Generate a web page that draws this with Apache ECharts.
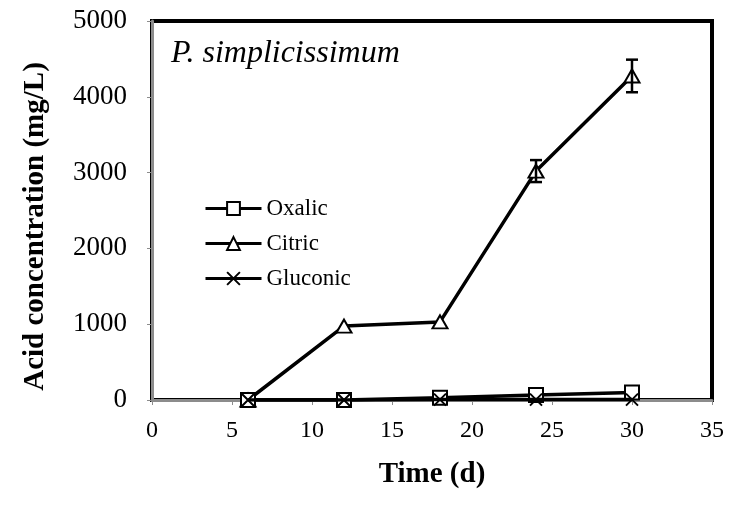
<!DOCTYPE html>
<html>
<head>
<meta charset="utf-8">
<script src="https://cdn.jsdelivr.net/npm/echarts@6/dist/echarts.min.js"></script>
<style>
  html, body { margin: 0; padding: 0; background: #fff; }
  #chart { width: 731px; height: 505px; }
</style>
</head>
<body>
<div id="chart"></div>
<script>
// Sampling days and acid concentrations (mg/L)
const days = [6, 12, 18, 24, 30];
const oxalic = [0, 0, 30, 65, 100];
const citric = [0, 975, 1030, 3020, 4275];
const citricErr = [0, 0, 0, 145, 215];
const gluconic = [0, 0, 5, 5, 5];
const xTicks = [0, 5, 10, 15, 20, 25, 30, 35];
const yTicks = [0, 1000, 2000, 3000, 4000, 5000];

const FONT = "'Liberation Serif', 'Times New Roman', serif";
const crossPath = 'path://M0,0L10,10M10,0L0,10';

const pairs = arr => days.map((d, i) => [d, arr[i]]);
const errData = days.map((d, i) => [d, citric[i] - citricErr[i], citric[i] + citricErr[i]])
  .filter((r, i) => citricErr[i] > 0);

const chart = echarts.init(document.getElementById('chart'), null, { renderer: 'canvas' });

chart.setOption({
  animation: false,
  backgroundColor: '#fff',
  textStyle: { fontFamily: FONT, color: '#000' },
  grid: {
    left: 152, right: 19, top: 21, bottom: 105,
    show: true, borderColor: '#000', borderWidth: 4, backgroundColor: 'transparent'
  },
  title: {
    text: 'P. simplicissimum',
    left: 166, top: 33,
    textStyle: { fontFamily: FONT, fontStyle: 'italic', fontWeight: 'normal', fontSize: 32, color: '#000' }
  },
  legend: {
    orient: 'vertical',
    left: 199, top: 192,
    itemWidth: 56, itemHeight: 16, itemGap: 12,
    lineStyle: { width: 3 },
    textStyle: { fontFamily: FONT, fontSize: 23, lineHeight: 23, color: '#000' },
    data: ['Oxalic', 'Citric', 'Gluconic']
  },
  xAxis: {
    type: 'value',
    min: xTicks[0], max: xTicks[xTicks.length - 1], interval: 5,
    name: 'Time (d)', nameLocation: 'middle', nameGap: 60,
    nameTextStyle: { fontFamily: FONT, fontSize: 29, fontWeight: 'bold', color: '#000' },
    axisLine: { show: true, onZero: false, lineStyle: { color: '#8c8c8c', width: 3 } },
    axisTick: { show: true, inside: false, length: 5, lineStyle: { color: '#8c8c8c', width: 1 } },
    axisLabel: { fontFamily: FONT, fontSize: 24, color: '#000', margin: 19, formatter: v => String(v) },
    splitLine: { show: false }
  },
  yAxis: {
    type: 'value',
    min: yTicks[0], max: yTicks[yTicks.length - 1], interval: 1000,
    name: 'Acid concentration (mg/L)', nameLocation: 'middle', nameGap: 102,
    nameTextStyle: {
      fontFamily: FONT, fontSize: 29, fontWeight: 'bold', color: '#000',
      padding: [0, 32, 0, 0]
    },
    axisLine: { show: true, lineStyle: { color: '#8c8c8c', width: 3 } },
    axisTick: { show: true, inside: false, length: 5, lineStyle: { color: '#8c8c8c', width: 1 } },
    axisLabel: { fontFamily: FONT, fontSize: 27, color: '#000', margin: 25, formatter: v => String(v) },
    splitLine: { show: false }
  },
  series: [
    {
      name: 'Citric', type: 'line', data: pairs(citric), z: 3,
      symbol: 'triangle', symbolSize: [15, 13],
      lineStyle: { color: '#000', width: 3.5 },
      itemStyle: { color: '#fff', borderColor: '#000', borderWidth: 2 }
    },
    {
      name: 'Oxalic', type: 'line', data: pairs(oxalic), z: 4,
      symbol: 'rect', symbolSize: 14,
      lineStyle: { color: '#000', width: 3.5 },
      itemStyle: { color: '#fff', borderColor: '#000', borderWidth: 2 }
    },
    {
      name: 'Gluconic', type: 'line', data: pairs(gluconic), z: 5,
      symbol: crossPath, symbolSize: 12,
      lineStyle: { color: '#000', width: 3.5 },
      itemStyle: { color: 'rgba(0,0,0,0)', borderColor: '#000', borderWidth: 2 }
    },
    {
      name: 'Citric error', type: 'custom', z: 6,
      data: errData,
      encode: { x: 0, y: [1, 2] },
      renderItem: function (params, api) {
        const x = api.value(0);
        const lo = api.coord([x, api.value(1)]);
        const hi = api.coord([x, api.value(2)]);
        const cap = 6;
        const style = { stroke: '#000', lineWidth: 2.5 };
        return {
          type: 'group',
          children: [
            { type: 'line', shape: { x1: lo[0], y1: lo[1], x2: hi[0], y2: hi[1] }, style },
            { type: 'line', shape: { x1: lo[0] - cap, y1: lo[1], x2: lo[0] + cap, y2: lo[1] }, style },
            { type: 'line', shape: { x1: hi[0] - cap, y1: hi[1], x2: hi[0] + cap, y2: hi[1] }, style }
          ]
        };
      }
    }
  ]
});
</script>
</body>
</html>
